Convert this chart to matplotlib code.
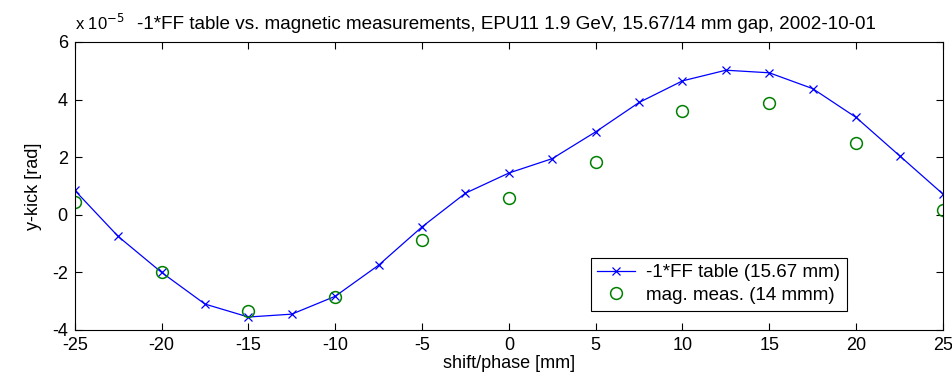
import matplotlib.pyplot as plt
import numpy as np

plt.rcParams['font.family'] = ['Liberation Sans', 'DejaVu Sans']
plt.rcParams['axes.unicode_minus'] = False

# values in units of 1e-5 rad
shift_ff = np.arange(-25, 25.1, 2.5)
kick_ff = [0.85, -0.75, -2.0, -3.1, -3.55, -3.45, -2.83, -1.75, -0.42, 0.75, 1.45,
           1.95, 2.88, 3.9, 4.65, 5.02, 4.93, 4.38, 3.38, 2.05, 0.72]
shift_meas = np.arange(-25, 25.1, 5)
kick_meas = [0.45, -1.98, -3.34, -2.84, -0.88, 0.58, 1.82, 3.6, 3.89, 2.48, 0.15]

fig = plt.figure(figsize=(9.52, 3.81), dpi=100)
ax = fig.add_axes([0.0785, 0.1339, 0.912, 0.7559])

ax.plot(shift_ff, kick_ff, color='blue', lw=0.9, marker='x', ms=6, mew=0.9,
        label='-1*FF table (15.67 mm)')
ax.plot(shift_meas, kick_meas, ls='none', marker='o', ms=8.5, mfc='none',
        mec=(0, 0.5, 0), mew=1.1, label='mag. meas. (14 mmm)')

ax.set_xlim(-25, 25)
ax.set_ylim(-4, 6)
ax.set_xticks(np.arange(-25, 26, 5))
ax.set_yticks(np.arange(-4, 7, 2))
ax.tick_params(direction='in', top=True, right=True, length=5, labelsize=13, pad=5)
ax.set_xlabel('shift/phase [mm]', fontsize=13, labelpad=1)
ax.set_ylabel('y-kick [rad]', fontsize=13, labelpad=7)
ax.set_title('-1*FF table vs. magnetic measurements, EPU11 1.9 GeV, 15.67/14 mm gap, 2002-10-01',
             fontsize=13.6, pad=9, x=0.497)
ax.text(0.0, 1.03, r'x 10$^{-5}$', transform=ax.transAxes, fontsize=12, ha='left', va='bottom')

leg = ax.legend(loc='lower right', bbox_to_anchor=(0.900, 0.035), fontsize=13.5,
                fancybox=False, framealpha=1, edgecolor='black', borderpad=0.35,
                handlelength=2.0, labelspacing=0.3, handletextpad=0.6)
leg.get_frame().set_linewidth(0.8)

fig.savefig('out.png', dpi=100)
